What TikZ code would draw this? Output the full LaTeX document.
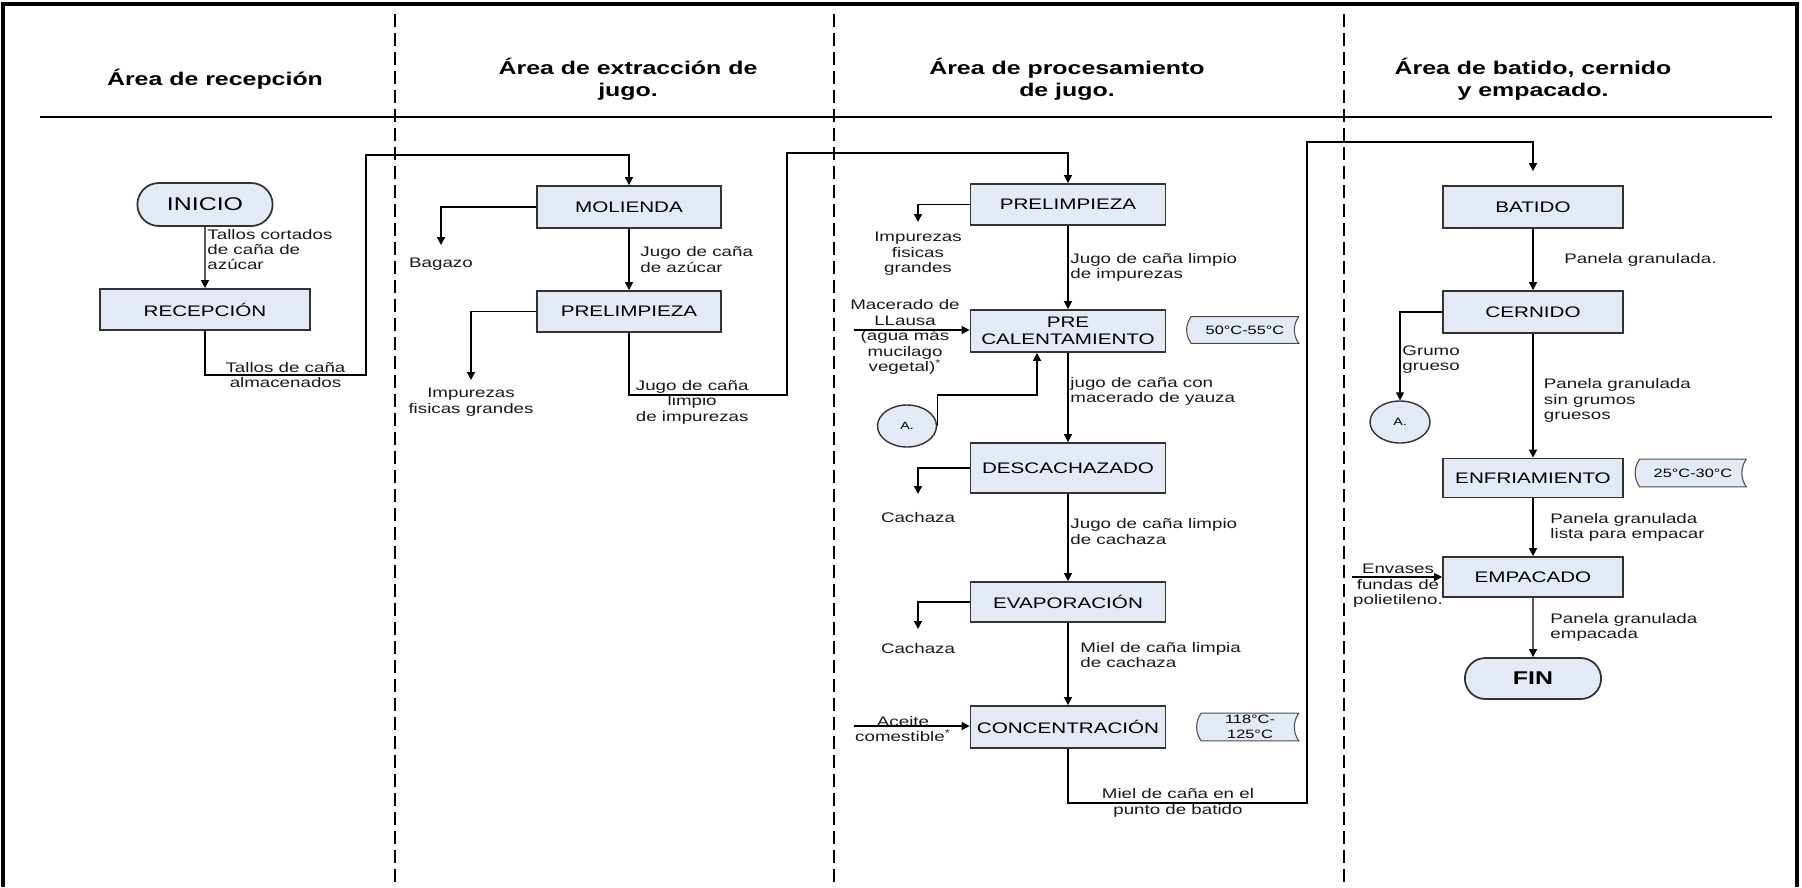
\documentclass[tikz,border=0pt]{standalone}
\usepackage{fontspec}
\setmainfont{Liberation Sans}[FakeStretch=1.35]
\usetikzlibrary{arrows.meta,shapes.geometric,shapes.misc,backgrounds}

\definecolor{boxfill}{HTML}{E3E9F5}

% stored-data outline drawn behind a temperature node
\newcommand{\tempTag}[1]{%
  \begin{scope}[on background layer]
    \draw[tagline] (#1.north east) -- (#1.north west)
      .. controls +(-6,8) and +(-6,-8) .. (#1.south west) -- (#1.south east)
      .. controls +(-6,-8) and +(-6,8) .. (#1.north east);
  \end{scope}}

\begin{document}
\begin{tikzpicture}[x=0.02cm, y=-0.02cm,
    >={Triangle[length=0.16cm,width=0.16cm]},
    proc/.style={draw=black!80, line width=1pt, fill=boxfill, minimum width=3.9cm,
      minimum height=0.84cm, align=center, inner sep=1pt,
      font=\fontsize{8.7}{9.7}\selectfont},
    term/.style={rounded rectangle, draw=black!80, line width=1pt, fill=boxfill,
      minimum width=2.94cm, minimum height=0.86cm, font=\fontsize{10.5}{12}\selectfont},
    conA/.style={ellipse, draw=black!80, line width=0.8pt, fill=boxfill, inner sep=0pt,
      minimum width=1.18cm, minimum height=0.84cm, font=\fontsize{6}{7}\selectfont},
    lbl/.style={font=\fontsize{7.9}{8.8}\selectfont, align=left, inner sep=1pt, text=black!90},
    outtxt/.style={lbl, align=center, anchor=north, inner ysep=0.2cm},
    hdr/.style={font=\fontsize{10.5}{12.5}\selectfont\bfseries, align=center},
    tagtxt/.style={font=\fontsize{6.9}{8.5}\selectfont, align=center, inner sep=0pt,
      minimum width=2.1cm, minimum height=0.52cm},
    tagline/.style={draw=black!70, line width=0.6pt, fill=boxfill},
    conn/.style={line width=0.8pt}]
  \useasboundingbox (0,0) rectangle (1802,887);

  % frame, header rule and lanes
  \draw[line width=2.6pt] (3,887) -- (3,4) -- (1797,4) -- (1797,887);
  \draw[line width=1pt] (40,117) -- (1772,117);
  \foreach \x in {395,834,1344}
    \draw[line width=1.1pt, dash pattern=on 0.26cm off 0.12cm] (\x,14) -- (\x,887);

  \node[hdr] (hRec)  at (215,79)  {Área de recepción};
  \node[hdr] (hExt)  at (628,79)  {Área de extracción de\\jugo.};
  \node[hdr] (hProc) at (1067,79) {Área de procesamiento\\de jugo.};
  \node[hdr] (hBat)  at (1533,79) {Área de batido, cernido\\y empacado.};

  % recepcion
  \node[term] (inicio) at (205,204.5) {INICIO};
  \node[proc, minimum width=4.2cm, minimum height=0.82cm] (recep) at (205,309.5) {RECEPCIÓN};

  % extraccion
  \node[proc, minimum width=3.68cm] (mol)  at (629,207)   {MOLIENDA};
  \node[proc, minimum width=3.68cm, minimum height=0.82cm] (pre1) at (629,311.5) {PRELIMPIEZA};
  \node[outtxt, inner ysep=0.26cm] (bagazo) at (441,245) {Bagazo};
  \node[outtxt, inner ysep=0.16cm] (imp1)   at (471,380) {Impurezas\\fisicas grandes};

  % procesamiento
  \node[proc, minimum height=0.82cm] (pre2) at (1068,204.5) {PRELIMPIEZA};
  \node[proc] (precal) at (1068,331) {PRE\\CALENTAMIENTO};
  \node[proc, minimum height=1cm] (desc) at (1068,468) {DESCACHAZADO};
  \node[proc, minimum height=0.8cm] (evap) at (1068,602) {EVAPORACIÓN};
  \node[proc] (conc) at (1068,727) {CONCENTRACIÓN};
  \node[outtxt] (imp2) at (918,222) {Impurezas\\fisicas\\grandes};
  \node[outtxt, inner ysep=0.36cm] (cach1) at (918,494) {Cachaza};
  \node[outtxt, inner ysep=0.28cm] (cach2) at (918,629) {Cachaza};
  \coordinate (macIn) at (854,330);
  \node[lbl, align=center] (macer) at (905,337) {Macerado de\\LLausa\\(agua más\\mucilago\\vegetal)\textsuperscript{*}};
  \node[conA] (conA1) at (907,426) {A.};
  \coordinate (aceIn) at (854,726);
  \node[lbl, align=center] (aceite) at (903,729) {Aceite\\comestible\textsuperscript{*}};
  \node[tagtxt, minimum width=2.14cm] (t1) at (1245,330) {50°C-55°C};
  \node[tagtxt, minimum width=1.94cm, minimum height=0.54cm] (t2) at (1250,727) {118°C-\\125°C};
  \tempTag{t1}
  \tempTag{t2}

  % batido, cernido y empacado
  \node[proc, minimum width=3.6cm] (batido) at (1533,207) {BATIDO};
  \node[proc, minimum width=3.6cm] (cern)   at (1533,312) {CERNIDO};
  \node[proc, minimum width=3.6cm, minimum height=0.78cm] (enfr)  at (1533,478) {ENFRIAMIENTO};
  \node[proc, minimum width=3.6cm, minimum height=0.8cm]  (empac) at (1533,577) {EMPACADO};
  \node[term, minimum width=2.96cm, minimum height=0.82cm, font=\fontsize{10.5}{12}\selectfont\bfseries] (fin) at (1533,678.5) {FIN};
  \node[conA, minimum width=1.2cm] (conA2) at (1400,422) {A.};
  \coordinate (envIn) at (1352,577);
  \node[lbl, align=center] (envas) at (1398,586) {Envases\\fundas de\\polietileno.};
  \node[tagtxt, minimum width=2.12cm, minimum height=0.54cm] (t3) at (1693,473) {25°C-30°C};
  \tempTag{t3}

  % connectors
  \draw[conn,->] (inicio) -- node[lbl, right, pos=.37] (lTallos) {Tallos cortados\\de caña de\\azúcar} (recep);
  \draw[conn,->] (recep) |- node[lbl, align=center, pos=.75] (lAlmac) {Tallos de caña\\almacenados}
    (366,375) -- (366,155) -| (mol);

  \draw[conn,->] (mol) -| (bagazo);
  \draw[conn,->] (pre1) -| (imp1);
  \draw[conn,->] (mol) -- node[lbl, right=0.18cm] (lJugo1) {Jugo de caña\\de azúcar} (pre1);
  \draw[conn,->] (pre1) |- node[lbl, align=center, pos=.7, yshift=-0.14cm] (lJugo2) {Jugo de caña\\limpio\\de impurezas}
    (787,395) -- (787,153) -| (pre2);

  \draw[conn,->] (pre2) -| (imp2);
  \draw[conn,->] (desc) -| (cach1);
  \draw[conn,->] (evap) -| (cach2);
  \draw[conn,->] (pre2) -- node[lbl, right] (lJugo3) {Jugo de caña limpio\\de impurezas} (precal);
  \draw[conn,->] (precal) -- node[lbl, right, pos=.43] (lJugo4) {jugo de caña con\\macerado de yauza} (desc);
  \draw[conn,->] (desc) -- node[lbl, right, pos=.43] (lJugo5) {Jugo de caña limpio\\de cachaza} (evap);
  \draw[conn,->] (evap) -- node[lbl, right=0.2cm, pos=.39] (lMiel1) {Miel de caña limpia\\de cachaza} (conc);
  \draw[conn,->] (macIn) -- (macIn -| precal.west);
  \draw[conn,->] (conA1.east) -- ++(0,-31) -| ([xshift=-0.62cm]precal.south);
  \draw[conn,->] (aceIn) -- (aceIn -| conc.west);
  \draw[conn,->, shorten >=0.28cm] (conc) |- node[lbl, align=center, pos=.73] (lMiel2) {Miel de caña en el\\punto de batido}
    (1307,803) -- (1307,142) -| (batido);

  \draw[conn,->] (batido) -- node[lbl, right=0.58cm] (lPan1) {Panela granulada.} (cern);
  \draw[conn,->] (cern) -| node[lbl, right, pos=.77] (lGrumo) {Grumo\\grueso} (conA2);
  \draw[conn,->] (cern) -- node[lbl, right=0.17cm, pos=.54] (lPan2) {Panela granulada\\sin grumos\\gruesos} (enfr);
  \draw[conn,->] (enfr) -- node[lbl, right=0.3cm] (lPan3) {Panela granulada\\lista para empacar} (empac);
  \draw[conn,->] (envIn) -- (empac);
  \draw[conn,->] (empac) -- node[lbl, right=0.3cm] (lPan4) {Panela granulada\\empacada} (fin);
\end{tikzpicture}
\end{document}
